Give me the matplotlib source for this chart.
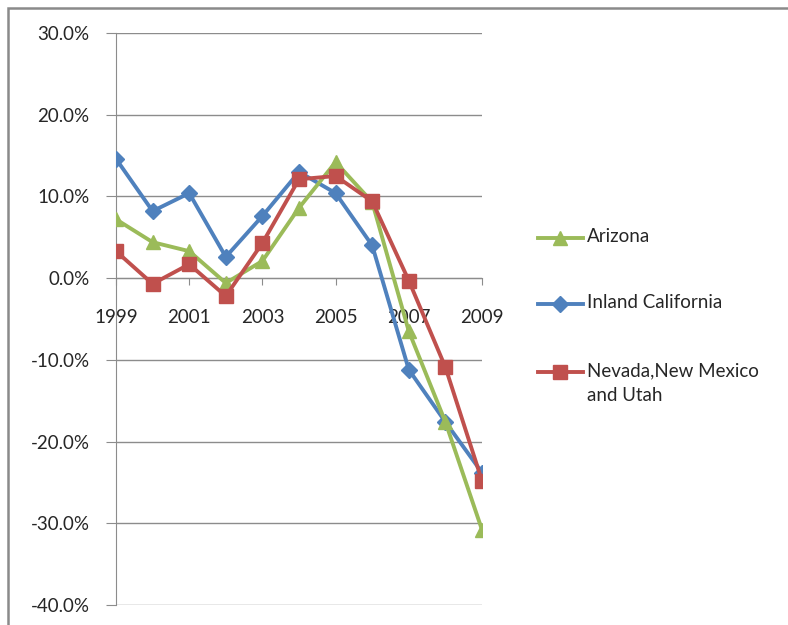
import matplotlib
matplotlib.use("Agg")
import matplotlib.pyplot as plt
from matplotlib.patches import Rectangle
from matplotlib.lines import Line2D
from matplotlib.ticker import FuncFormatter

plt.rcParams['font.family'] = ['Lato', 'DejaVu Sans']

years = list(range(1999, 2010))
arizona = [7.2, 4.4, 3.3, -0.6, 2.1, 8.6, 14.2, 9.3, -6.5, -17.6, -30.8]
inland_ca = [14.6, 8.2, 10.4, 2.6, 7.6, 13.0, 10.4, 4.0, -11.2, -17.6, -23.8]
nevada_nm_ut = [3.3, -0.7, 1.7, -2.2, 4.3, 12.1, 12.5, 9.4, -0.3, -10.9, -24.8]

series_names = ["Arizona", "Inland California", "Nevada,New Mexico\nand Utah"]
colors = ["#9BBB59", "#4F81BD", "#C0504D"]
markers = ["^", "D", "s"]
msizes = [10, 8, 10]
txt_color = '#262626'
fs = 13.5

W, H = 788, 625
fig = plt.figure(figsize=(W / 100, H / 100), dpi=100)
fig.patch.set_facecolor('white')

# outer chart border (only left and top visible in the crop)
fig.patches.append(Rectangle((8 / W, -0.1), 1.2, 1 - 8 / H + 0.1, transform=fig.transFigure,
                             fill=False, edgecolor='#8a8a8a', linewidth=1.8))

ax = fig.add_axes([116 / W, 1 - 605 / H, (482 - 116) / W, (605 - 33) / H])

# draw order: blue, green, red (red on top)
for vals, i in [(inland_ca, 1), (arizona, 0), (nevada_nm_ut, 2)]:
    ax.plot(years, vals, color=colors[i], marker=markers[i], markersize=msizes[i],
            linewidth=2.8, zorder=3)

ax.set_xlim(1999, 2009)
ax.set_ylim(-40, 30)
ax.set_yticks(range(-40, 31, 10))
ax.yaxis.set_major_formatter(FuncFormatter(lambda v, p: "%.1f%%" % v))
ax.grid(axis='y', color='#8c8c8c', linewidth=1)
ax.set_axisbelow(True)

ax.spines['top'].set_visible(False)
ax.spines['right'].set_visible(False)
ax.spines['left'].set_color('#8c8c8c')
ax.spines['bottom'].set_color('#8c8c8c')
ax.spines['bottom'].set_position(('data', 0))

ax.set_xticks(range(1999, 2010, 2))
ax.set_xticklabels([str(y) for y in range(1999, 2010, 2)])
ax.tick_params(axis='x', direction='out', length=5, color='#8c8c8c', pad=17,
               labelsize=fs, labelcolor=txt_color)
ax.tick_params(axis='y', direction='out', length=7, color='#8c8c8c', pad=12,
               labelsize=fs, labelcolor=txt_color)

# legend, drawn by hand so the marker lines up with the first text line
leg_y = [238, 304, 372]
for i, name in enumerate(series_names):
    y = 1 - leg_y[i] / H
    fig.add_artist(Line2D([538 / W, 583 / W], [y, y], color=colors[i], linewidth=2.8,
                          transform=fig.transFigure))
    fig.add_artist(Line2D([560 / W], [y], color=colors[i], marker=markers[i],
                          markersize=msizes[i], transform=fig.transFigure))
    fig.text(587 / W, y, name, fontsize=fs, color=txt_color, va='top',
             linespacing=1.55, transform=fig.transFigure,
             bbox=None).set_y(y + 10 / H)

fig.savefig("out.png", dpi=100)
